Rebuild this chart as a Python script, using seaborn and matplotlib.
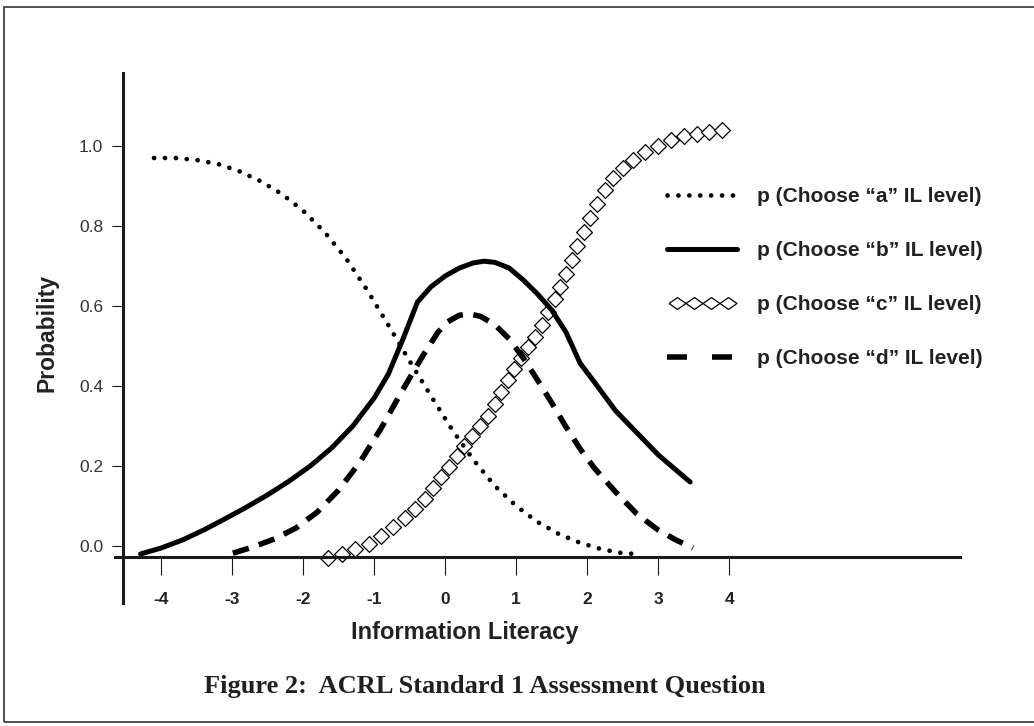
import matplotlib
matplotlib.use("Agg")
import matplotlib.pyplot as plt
from matplotlib.lines import Line2D
from matplotlib.patches import Rectangle
from matplotlib.legend_handler import HandlerLine2D
import seaborn as sns

# valeurs
x_a = [-4.1, -3.8, -3.5, -3.2, -2.9, -2.6, -2.3, -2.0, -1.7, -1.4, -1.1, -0.8, -0.5, -0.2, 0.1, 0.4,
       0.7, 1.0, 1.3, 1.6, 1.9, 2.2, 2.5, 2.7]
y_a = [0.970, 0.970, 0.965, 0.955, 0.937, 0.912, 0.880, 0.838, 0.785, 0.720, 0.640, 0.552, 0.462, 0.375,
       0.290, 0.215, 0.150, 0.100, 0.060, 0.030, 0.008, -0.008, -0.018, -0.020]

x_b = [-4.29, -4.0, -3.7, -3.4, -3.1, -2.8, -2.5, -2.2, -1.9, -1.6, -1.3, -1.0, -0.8, -0.6, -0.39, -0.2,
       0.0, 0.2, 0.4, 0.55, 0.7, 0.9, 1.1, 1.3, 1.5, 1.7, 1.9, 2.1, 2.4, 2.7, 3.0, 3.25, 3.45]
y_b = [-0.020, -0.005, 0.015, 0.040, 0.068, 0.097, 0.128, 0.162, 0.200, 0.245, 0.300, 0.370, 0.430, 0.515,
       0.610, 0.648, 0.675, 0.695, 0.708, 0.712, 0.709, 0.695, 0.665, 0.630, 0.590, 0.535, 0.457, 0.410,
       0.338, 0.283, 0.228, 0.190, 0.160]

x_c = [-1.65, -1.46, -1.27, -1.08, -0.90, -0.73, -0.57, -0.42, -0.29, -0.17, -0.06, 0.05, 0.16, 0.27, 0.38,
       0.49, 0.60, 0.70, 0.79, 0.88, 0.97, 1.07, 1.17, 1.27, 1.36, 1.45, 1.54, 1.62, 1.70, 1.78, 1.86, 1.95,
       2.04, 2.14, 2.25, 2.37, 2.50, 2.65, 2.82, 3.00, 3.18, 3.36, 3.54, 3.72, 3.90]
y_c = [-0.030, -0.020, -0.008, 0.006, 0.026, 0.048, 0.070, 0.093, 0.118, 0.145, 0.172, 0.198, 0.224, 0.250,
       0.275, 0.300, 0.325, 0.355, 0.385, 0.415, 0.443, 0.470, 0.497, 0.523, 0.553, 0.585, 0.617, 0.648,
       0.680, 0.715, 0.750, 0.785, 0.820, 0.855, 0.890, 0.920, 0.945, 0.965, 0.985, 1.000, 1.015, 1.025,
       1.030, 1.035, 1.040]

x_d = [-2.99, -2.7, -2.4, -2.1, -1.8, -1.5, -1.2, -0.9, -0.6, -0.3, -0.1, 0.03, 0.2, 0.35, 0.5, 0.7, 0.9,
       1.1, 1.3, 1.5, 1.7, 1.9, 2.1, 2.4, 2.7, 3.0, 3.25, 3.49]
y_d = [-0.018, -0.002, 0.018, 0.045, 0.085, 0.140, 0.210, 0.295, 0.390, 0.480, 0.535, 0.560, 0.577, 0.580,
       0.574, 0.553, 0.518, 0.470, 0.415, 0.358, 0.298, 0.243, 0.195, 0.135, 0.080, 0.040, 0.015, -0.005]

etiquetas = ['p (Choose \u201ca\u201d IL level)', 'p (Choose \u201cb\u201d IL level)',
             'p (Choose \u201cc\u201d IL level)', 'p (Choose \u201cd\u201d IL level)']
xticks = [-4, -3, -2, -1, 0, 1, 2, 3, 4]
yticks = [0.0, 0.2, 0.4, 0.6, 0.8, 1.0]

sns.set_theme(style="white")
plt.rcParams['font.family'] = ['Liberation Sans', 'DejaVu Sans']
texto = '#222222'

fig = plt.figure(figsize=(10.34, 7.26), dpi=100)
ax = fig.add_axes([115/1034, 1 - 603/726, 845/1034, 530/726])

punteado = (0, (0.01, 2.3))
sns.scatterplot(x=x_c, y=y_c, ax=ax, marker='D', s=65, facecolor='white', edgecolor='black',
                linewidth=0.9, zorder=2)
sns.lineplot(x=x_a, y=y_a, ax=ax, color='black', lw=3.4, linestyle=punteado,
             dash_capstyle='round', zorder=3)
sns.lineplot(x=x_b, y=y_b, ax=ax, color='black', lw=3.6, zorder=3)
sns.lineplot(x=x_d, y=y_d, ax=ax, color='black', lw=4, linestyle=(0, (3.0, 1.9)), zorder=3)

ax.set_xlim(-4.65, 7.25)
ax.set_ylim(-0.1425, 1.1825)
ax.spines['top'].set_visible(False)
ax.spines['right'].set_visible(False)
ax.spines['left'].set_position(('data', -4.535))
ax.spines['bottom'].set_position(('data', -0.0275))
for s in ['left', 'bottom']:
    ax.spines[s].set_linewidth(2.2)
    ax.spines[s].set_color('#1a1a1a')

ax.set_xticks(xticks)
ax.set_xticklabels([str(t) for t in xticks])
ax.set_yticks(yticks)
ax.set_yticklabels([f"{t:.1f}" for t in yticks])
ax.tick_params(axis='x', direction='out', length=13, width=0.8, pad=12, labelsize=12.5,
               labelcolor=texto, bottom=True, color='#1a1a1a')
ax.tick_params(axis='y', direction='out', length=8, width=0.8, pad=6.5, labelsize=12.5,
               labelcolor='#333333', left=True, color='#1a1a1a')
for lbl in ax.get_xticklabels():
    lbl.set_fontweight('bold')

ax.set_xlabel('Information Literacy', fontsize=17, fontweight='bold', color=texto)
ax.xaxis.set_label_coords((464.5 - 115) / 845, (603 - 632) / 530)
ax.xaxis.label.set_va('center')
ax.set_ylabel('Probability', fontsize=16.5, fontweight='bold', color=texto)
ax.yaxis.set_label_coords((47 - 115) / 845, (603 - 333) / 530)
ax.yaxis.label.set_va('center')

# leyenda
rombo_ancho = [(-1, 0), (0, -0.7), (1, 0), (0, 0.7), (-1, 0)]
h_c = Line2D([], [], color='black', ls='none', marker=rombo_ancho, ms=12.2, mfc='white',
             mec='black', mew=0.9)
manijas = [
    Line2D([], [], color='black', lw=3.4, linestyle=punteado, dash_capstyle='round'),
    Line2D([], [], color='black', lw=3.6),
    h_c,
    Line2D([], [], color='black', lw=4, linestyle=(0, (3.6, 4.5))),
]
ax.legend(manijas, etiquetas, loc='upper left', bbox_to_anchor=(667/1034, 1 - 187/726),
          bbox_transform=fig.transFigure, frameon=False, borderpad=0, borderaxespad=0,
          handlelength=3.37, handletextpad=0.96, labelspacing=1.68,
          handler_map={h_c: HandlerLine2D(numpoints=4, marker_pad=0.46)},
          prop={'family': 'Liberation Sans', 'weight': 'bold', 'size': 15}, labelcolor=texto)

fig.text(485/1034, 1 - 686/726, 'Figure 2:  ACRL Standard 1 Assessment Question', ha='center', va='center',
         family='Liberation Serif', fontweight='bold', fontsize=19, color='#231f20')

fig.add_artist(Rectangle((4/1034, 1 - 722/726), 1.2, 715/726, transform=fig.transFigure,
                         fill=False, lw=1.2, ec='#333333'))

fig.savefig('out.png', dpi=100, facecolor='white')
